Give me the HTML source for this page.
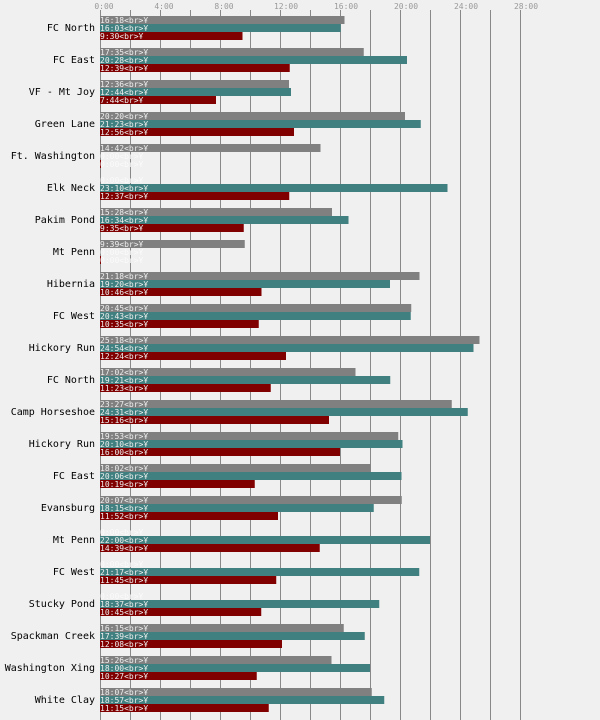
<!DOCTYPE html>
<html><head><meta charset="utf-8"><style>
html,body{margin:0;padding:0;background:#f0f0f0;}
svg{display:block;}
.l{font-family:"DejaVu Sans Mono","Liberation Mono",monospace;font-size:10px;fill:#000;text-anchor:end;}
.t{font-family:"DejaVu Sans Mono","Liberation Mono",monospace;font-size:8px;fill:#999;text-anchor:middle;}
.b{font-family:"DejaVu Sans Mono","Liberation Mono",monospace;font-size:8px;fill:#eee;}
</style></head><body>
<svg width="600" height="720" viewBox="0 0 600 720" xmlns="http://www.w3.org/2000/svg">
<rect width="600" height="720" fill="#f0f0f0"/>
<g stroke="#888" stroke-width="1">
<line x1="100.5" y1="10" x2="100.5" y2="720"/><line x1="130.5" y1="10" x2="130.5" y2="720"/><line x1="160.5" y1="10" x2="160.5" y2="720"/><line x1="190.5" y1="10" x2="190.5" y2="720"/><line x1="220.5" y1="10" x2="220.5" y2="720"/><line x1="250.5" y1="10" x2="250.5" y2="720"/><line x1="280.5" y1="10" x2="280.5" y2="720"/><line x1="310.5" y1="10" x2="310.5" y2="720"/><line x1="340.5" y1="10" x2="340.5" y2="720"/><line x1="370.5" y1="10" x2="370.5" y2="720"/><line x1="400.5" y1="10" x2="400.5" y2="720"/><line x1="430.5" y1="10" x2="430.5" y2="720"/><line x1="460.5" y1="10" x2="460.5" y2="720"/><line x1="490.5" y1="10" x2="490.5" y2="720"/><line x1="520.5" y1="10" x2="520.5" y2="720"/>
</g>
<text class="t" x="104" y="9">0:00</text><text class="t" x="164" y="9">4:00</text><text class="t" x="224" y="9">8:00</text><text class="t" x="286" y="9">12:00</text><text class="t" x="346" y="9">16:00</text><text class="t" x="406" y="9">20:00</text><text class="t" x="466" y="9">24:00</text><text class="t" x="526" y="9">28:00</text>

<g class="l">
<text x="95" y="31">FC North</text><text x="95" y="63">FC East</text><text x="95" y="95">VF - Mt Joy</text><text x="95" y="127">Green Lane</text><text x="95" y="159">Ft. Washington</text><text x="95" y="191">Elk Neck</text><text x="95" y="223">Pakim Pond</text><text x="95" y="255">Mt Penn</text><text x="95" y="287">Hibernia</text><text x="95" y="319">FC West</text><text x="95" y="351">Hickory Run</text><text x="95" y="383">FC North</text><text x="95" y="415">Camp Horseshoe</text><text x="95" y="447">Hickory Run</text><text x="95" y="479">FC East</text><text x="95" y="511">Evansburg</text><text x="95" y="543">Mt Penn</text><text x="95" y="575">FC West</text><text x="95" y="607">Stucky Pond</text><text x="95" y="639">Spackman Creek</text><text x="95" y="671">Washington Xing</text><text x="95" y="703">White Clay</text>
</g>

<g>
<rect x="100" y="16" width="244.5" height="8" fill="#808080"/><rect x="100" y="24" width="240.75" height="8" fill="#408080"/><rect x="100" y="32" width="142.5" height="8" fill="#800000"/>
<rect x="100" y="48" width="263.75" height="8" fill="#808080"/><rect x="100" y="56" width="307" height="8" fill="#408080"/><rect x="100" y="64" width="189.75" height="8" fill="#800000"/>
<rect x="100" y="80" width="189" height="8" fill="#808080"/><rect x="100" y="88" width="191" height="8" fill="#408080"/><rect x="100" y="96" width="116" height="8" fill="#800000"/>
<rect x="100" y="112" width="305" height="8" fill="#808080"/><rect x="100" y="120" width="320.75" height="8" fill="#408080"/><rect x="100" y="128" width="194" height="8" fill="#800000"/>
<rect x="100" y="144" width="220.5" height="8" fill="#808080"/><rect x="100" y="160" width="1" height="8" fill="#800000"/>
<rect x="100" y="184" width="347.5" height="8" fill="#408080"/><rect x="100" y="192" width="189.25" height="8" fill="#800000"/>
<rect x="100" y="208" width="232" height="8" fill="#808080"/><rect x="100" y="216" width="248.5" height="8" fill="#408080"/><rect x="100" y="224" width="143.75" height="8" fill="#800000"/>
<rect x="100" y="240" width="144.75" height="8" fill="#808080"/><rect x="100" y="256" width="1" height="8" fill="#800000"/>
<rect x="100" y="272" width="319.5" height="8" fill="#808080"/><rect x="100" y="280" width="290" height="8" fill="#408080"/><rect x="100" y="288" width="161.5" height="8" fill="#800000"/>
<rect x="100" y="304" width="311.25" height="8" fill="#808080"/><rect x="100" y="312" width="310.75" height="8" fill="#408080"/><rect x="100" y="320" width="158.75" height="8" fill="#800000"/>
<rect x="100" y="336" width="379.5" height="8" fill="#808080"/><rect x="100" y="344" width="373.5" height="8" fill="#408080"/><rect x="100" y="352" width="186" height="8" fill="#800000"/>
<rect x="100" y="368" width="255.5" height="8" fill="#808080"/><rect x="100" y="376" width="290.25" height="8" fill="#408080"/><rect x="100" y="384" width="170.75" height="8" fill="#800000"/>
<rect x="100" y="400" width="351.75" height="8" fill="#808080"/><rect x="100" y="408" width="367.75" height="8" fill="#408080"/><rect x="100" y="416" width="229" height="8" fill="#800000"/>
<rect x="100" y="432" width="298.25" height="8" fill="#808080"/><rect x="100" y="440" width="302.5" height="8" fill="#408080"/><rect x="100" y="448" width="240" height="8" fill="#800000"/>
<rect x="100" y="464" width="270.5" height="8" fill="#808080"/><rect x="100" y="472" width="301.5" height="8" fill="#408080"/><rect x="100" y="480" width="154.75" height="8" fill="#800000"/>
<rect x="100" y="496" width="301.75" height="8" fill="#808080"/><rect x="100" y="504" width="273.75" height="8" fill="#408080"/><rect x="100" y="512" width="178" height="8" fill="#800000"/>
<rect x="100" y="536" width="330" height="8" fill="#408080"/><rect x="100" y="544" width="219.75" height="8" fill="#800000"/>
<rect x="100" y="568" width="319.25" height="8" fill="#408080"/><rect x="100" y="576" width="176.25" height="8" fill="#800000"/>
<rect x="100" y="600" width="279.25" height="8" fill="#408080"/><rect x="100" y="608" width="161.25" height="8" fill="#800000"/>
<rect x="100" y="624" width="243.75" height="8" fill="#808080"/><rect x="100" y="632" width="264.75" height="8" fill="#408080"/><rect x="100" y="640" width="182" height="8" fill="#800000"/>
<rect x="100" y="656" width="231.5" height="8" fill="#808080"/><rect x="100" y="664" width="270" height="8" fill="#408080"/><rect x="100" y="672" width="156.75" height="8" fill="#800000"/>
<rect x="100" y="688" width="271.75" height="8" fill="#808080"/><rect x="100" y="696" width="284.25" height="8" fill="#408080"/><rect x="100" y="704" width="168.75" height="8" fill="#800000"/>
</g>

<g class="b">
<text x="100" y="23">16:18&lt;br&gt;Ұ</text><text x="100" y="31">16:03&lt;br&gt;Ұ</text><text x="100" y="39">9:30&lt;br&gt;Ұ</text>
<text x="100" y="55">17:35&lt;br&gt;Ұ</text><text x="100" y="63">20:28&lt;br&gt;Ұ</text><text x="100" y="71">12:39&lt;br&gt;Ұ</text>
<text x="100" y="87">12:36&lt;br&gt;Ұ</text><text x="100" y="95">12:44&lt;br&gt;Ұ</text><text x="100" y="103">7:44&lt;br&gt;Ұ</text>
<text x="100" y="119">20:20&lt;br&gt;Ұ</text><text x="100" y="127">21:23&lt;br&gt;Ұ</text><text x="100" y="135">12:56&lt;br&gt;Ұ</text>
<text x="100" y="151">14:42&lt;br&gt;Ұ</text>
<text x="100" y="191">23:10&lt;br&gt;Ұ</text><text x="100" y="199">12:37&lt;br&gt;Ұ</text>
<text x="100" y="215">15:28&lt;br&gt;Ұ</text><text x="100" y="223">16:34&lt;br&gt;Ұ</text><text x="100" y="231">9:35&lt;br&gt;Ұ</text>
<text x="100" y="247">9:39&lt;br&gt;Ұ</text>
<text x="100" y="279">21:18&lt;br&gt;Ұ</text><text x="100" y="287">19:20&lt;br&gt;Ұ</text><text x="100" y="295">10:46&lt;br&gt;Ұ</text>
<text x="100" y="311">20:45&lt;br&gt;Ұ</text><text x="100" y="319">20:43&lt;br&gt;Ұ</text><text x="100" y="327">10:35&lt;br&gt;Ұ</text>
<text x="100" y="343">25:18&lt;br&gt;Ұ</text><text x="100" y="351">24:54&lt;br&gt;Ұ</text><text x="100" y="359">12:24&lt;br&gt;Ұ</text>
<text x="100" y="375">17:02&lt;br&gt;Ұ</text><text x="100" y="383">19:21&lt;br&gt;Ұ</text><text x="100" y="391">11:23&lt;br&gt;Ұ</text>
<text x="100" y="407">23:27&lt;br&gt;Ұ</text><text x="100" y="415">24:31&lt;br&gt;Ұ</text><text x="100" y="423">15:16&lt;br&gt;Ұ</text>
<text x="100" y="439">19:53&lt;br&gt;Ұ</text><text x="100" y="447">20:10&lt;br&gt;Ұ</text><text x="100" y="455">16:00&lt;br&gt;Ұ</text>
<text x="100" y="471">18:02&lt;br&gt;Ұ</text><text x="100" y="479">20:06&lt;br&gt;Ұ</text><text x="100" y="487">10:19&lt;br&gt;Ұ</text>
<text x="100" y="503">20:07&lt;br&gt;Ұ</text><text x="100" y="511">18:15&lt;br&gt;Ұ</text><text x="100" y="519">11:52&lt;br&gt;Ұ</text>
<text x="100" y="543">22:00&lt;br&gt;Ұ</text><text x="100" y="551">14:39&lt;br&gt;Ұ</text>
<text x="100" y="575">21:17&lt;br&gt;Ұ</text><text x="100" y="583">11:45&lt;br&gt;Ұ</text>
<text x="100" y="607">18:37&lt;br&gt;Ұ</text><text x="100" y="615">10:45&lt;br&gt;Ұ</text>
<text x="100" y="631">16:15&lt;br&gt;Ұ</text><text x="100" y="639">17:39&lt;br&gt;Ұ</text><text x="100" y="647">12:08&lt;br&gt;Ұ</text>
<text x="100" y="663">15:26&lt;br&gt;Ұ</text><text x="100" y="671">18:00&lt;br&gt;Ұ</text><text x="100" y="679">10:27&lt;br&gt;Ұ</text>
<text x="100" y="695">18:07&lt;br&gt;Ұ</text><text x="100" y="703">18:57&lt;br&gt;Ұ</text><text x="100" y="711">11:15&lt;br&gt;Ұ</text>
</g>
<g class="b" style="fill:#fafafa">
<text x="100" y="159">0:00&lt;br&gt;Ұ</text><text x="100" y="167">0:00&lt;br&gt;Ұ</text>
<text x="100" y="183">0:00&lt;br&gt;Ұ</text>
<text x="100" y="255">0:00&lt;br&gt;Ұ</text><text x="100" y="263">0:00&lt;br&gt;Ұ</text>
<text x="100" y="535">0:00&lt;br&gt;Ұ</text><text x="100" y="567">0:00&lt;br&gt;Ұ</text><text x="100" y="599">0:00&lt;br&gt;Ұ</text>
</g>
</svg>
</body></html>
